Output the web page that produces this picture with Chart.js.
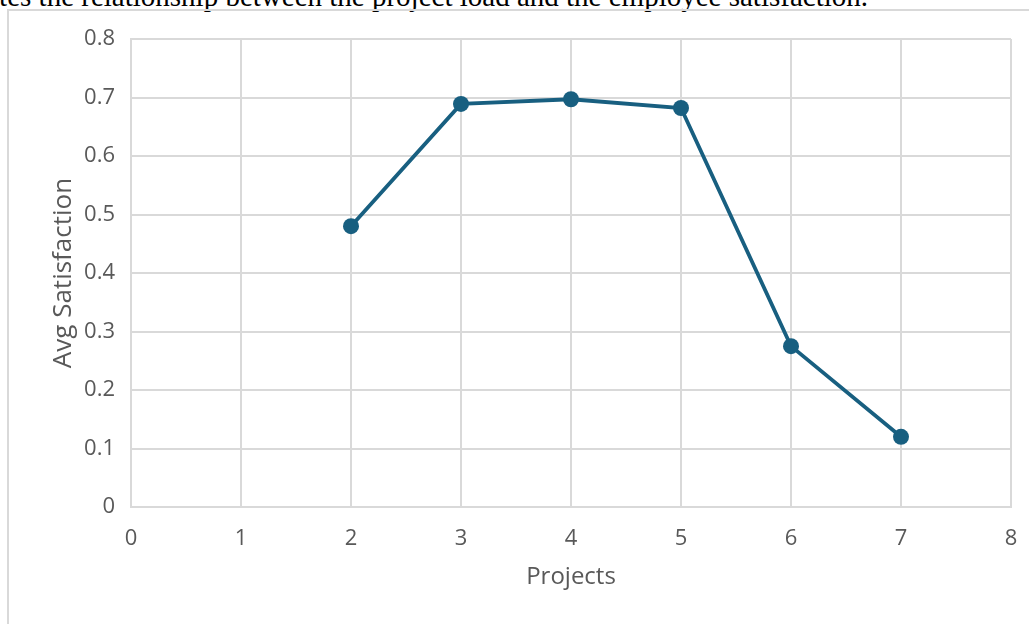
<!DOCTYPE html>
<html>
<head>
<meta charset="utf-8">
<script src="https://cdn.jsdelivr.net/npm/chart.js@4"></script>
<style>
  html, body { margin: 0; padding: 0; background: #fff; }
  body { width: 1029px; height: 624px; position: relative; overflow: hidden; }
  .lead {
    position: absolute; right: 161px; top: -18px;
    font-family: "Liberation Serif", "DejaVu Serif", serif;
    font-size: 29px; line-height: 29px; color: #000; white-space: nowrap;
  }
  .frame {
    position: absolute; left: 7px; top: 9px; width: 1100px; height: 700px;
    border-left: 2px solid #d9d9d9; border-top: 2px solid #d9d9d9;
  }
  #chart { position: absolute; left: 0; top: 0; }
</style>
</head>
<body>
<div class="lead">This chart illustrates the relationship between the project load and the employee satisfaction.</div>
<div class="frame"></div>
<canvas id="chart" width="1029" height="624"></canvas>
<script>
// Number of projects per employee and the average satisfaction level
const projects = [2, 3, 4, 5, 6, 7];
const avgSatisfaction = [0.480, 0.689, 0.697, 0.682, 0.275, 0.120];
const xTicks = [0, 1, 2, 3, 4, 5, 6, 7, 8];
const yTicks = [0, 0.1, 0.2, 0.3, 0.4, 0.5, 0.6, 0.7, 0.8];

const points = projects.map((p, i) => ({ x: p, y: avgSatisfaction[i] }));

const fontFamily = '"Open Sans", "Segoe UI", sans-serif';
const textColor = '#595959';
const gridColor = '#d9d9d9';
const lineColor = '#185f80';

new Chart(document.getElementById('chart'), {
  type: 'line',
  data: {
    datasets: [{
      data: points,
      borderColor: lineColor,
      backgroundColor: lineColor,
      borderWidth: 3.8,
      pointRadius: 8,
      pointHoverRadius: 8,
      pointBorderWidth: 0,
      tension: 0,
      fill: false
    }]
  },
  options: {
    responsive: false,
    animation: false,
    events: [],
    layout: { padding: { left: 48, top: 39, right: 18, bottom: 32 } },
    plugins: { legend: { display: false }, tooltip: { enabled: false } },
    scales: {
      x: {
        type: 'linear',
        min: xTicks[0],
        max: xTicks[xTicks.length - 1],
        afterBuildTicks: axis => { axis.ticks = xTicks.map(v => ({ value: v })); },
        afterFit: axis => {
          axis.height = 85;
          // end labels may overhang the plot edges; keep the layout padding fixed
          axis.paddingLeft = 0;
          axis.paddingRight = 0;
        },
        grid: { color: gridColor, lineWidth: 2, drawTicks: false },
        border: { color: gridColor, width: 2 },
        ticks: {
          color: textColor, padding: 19,
          font: { family: fontFamily, size: 22 },
          callback: v => String(v)
        },
        title: {
          display: true, text: 'Projects', color: textColor,
          padding: 0, font: { family: fontFamily, size: 24 }
        }
      },
      y: {
        min: yTicks[0],
        max: yTicks[yTicks.length - 1],
        afterBuildTicks: axis => { axis.ticks = yTicks.map(v => ({ value: v })); },
        afterFit: axis => { axis.width = 131 - 48; },
        grid: { color: gridColor, lineWidth: 2, drawTicks: false },
        border: { color: gridColor, width: 2 },
        ticks: {
          color: textColor, padding: 16,
          font: { family: fontFamily, size: 22 },
          callback: v => (v === 0 ? '0' : v.toFixed(1))
        },
        title: {
          display: true, text: 'Avg Satisfaction', color: textColor,
          padding: 0, font: { family: fontFamily, size: 26 }
        }
      }
    }
  }
});
</script>
</body>
</html>
